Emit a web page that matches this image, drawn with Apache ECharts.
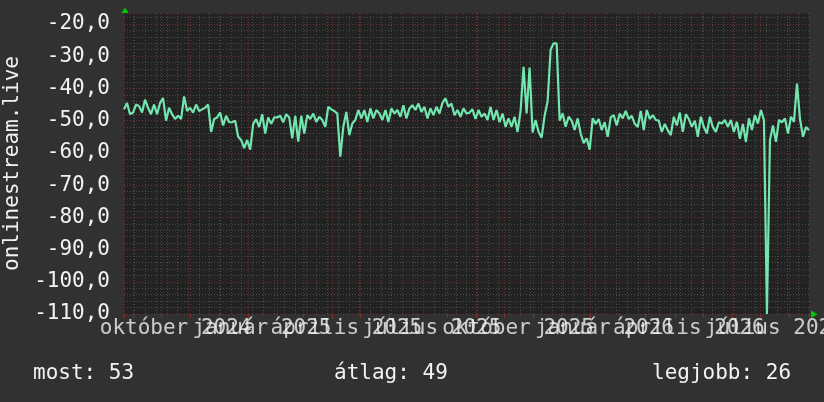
<!DOCTYPE html>
<html>
<head>
<meta charset="utf-8">
<script src="https://cdn.jsdelivr.net/npm/echarts@6/dist/echarts.min.js"></script>
<style>
html, body { margin: 0; padding: 0; background: #313131; }
#main { width: 824px; height: 402px; }
</style>
</head>
<body>
<div id="main"></div>
<script>
// signal level samples, evenly spread from startDate to endDate
var values = [
    -46.5, -44.5, -48, -47.5, -45, -45.5, -47.5, -43.5, -46, -48,
    -45, -48, -44.5, -43, -50, -46, -48, -49.5, -48.5, -49.5,
    -42.5, -47, -46, -47.5, -45, -47, -46.5, -46, -45, -53.5,
    -49.5, -49, -47.5, -51.5, -48.5, -50.5, -50.5, -50, -55, -56,
    -58.5, -56, -59, -51, -49.5, -52, -48, -54, -49, -51,
    -49, -49, -48.5, -50.5, -48, -49, -55.5, -48.5, -56.5, -48.5,
    -54, -48.3, -49.5, -47.8, -50.4, -48.8, -49.8, -51.9, -45.7, -46.5,
    -47, -47.8, -61.2, -51.9, -47.3, -54.5, -50.9, -49.8, -46.7, -49.3,
    -46.7, -50.4, -46.2, -49.3, -46.7, -47.8, -49.8, -46.7, -50.4, -46.2,
    -47.8, -46.7, -48.8, -45.2, -49.3, -46.2, -45.2, -46.7, -44.7, -47.3,
    -45.7, -49.3, -46.2, -48.3, -45.7, -47.8, -44.5, -43.1, -45.7, -44.7,
    -48.3, -46.7, -48.8, -46.2, -47.8, -47.5, -46.5, -49.5, -46.7, -48.8,
    -47.8, -49.8, -45.7, -49.8, -46.7, -50.5, -47.8, -51.9, -49.3, -51.9,
    -48.8, -53.5, -47, -33.3, -47.8, -33.5, -53.7, -49.8, -53.5, -55.3,
    -48.5, -44, -28, -26, -26, -50, -47.8, -51.9, -48.8, -50,
    -52.9, -49.3, -54, -57, -55.5, -59, -49.3, -51, -49.5, -52.9,
    -50.5, -55, -49, -48.3, -51.5, -47.8, -49.3, -47, -49.5, -48.5,
    -51, -52, -47, -52.9, -46.7, -49.5, -48.3, -49.8, -50, -53.5,
    -51, -53, -54.5, -48.8, -51.5, -47.5, -53.5, -48, -49.5, -51.9,
    -50, -55, -48.8, -52, -54, -48.8, -52, -53.5, -50.5, -50.9,
    -49.8, -51.9, -49.8, -53.5, -50.4, -55.6, -51, -56.6, -49.3, -52.9,
    -48.3, -50.9, -46.7, -49.8, -110, -56.1, -51.5, -56.6, -49.8, -50.5,
    -49.3, -54, -48.8, -50.4, -38.5, -49.5, -55, -52, -53
];
var startDate = '2024-08-22';
var endDate = '2026-08-22';

var labelDates = ['2024-10-16', '2025-01-16', '2025-04-16', '2025-07-16',
                  '2025-10-16', '2026-01-16', '2026-04-16', '2026-07-16'];
var labelTexts = ['október 2024', 'január 2025', 'április 2025', 'július 2025',
                  'október 2025', 'január 2026', 'április 2026', 'július 2026'];

var yAxisTitle = 'onlinestream.live';
var statNames = ['most', 'átlag', 'legjobb'];
var statValues = [53, 49, 26];

var FONT = 'DejaVu Sans Mono';
var RED = '#6e2f2f';
var GRAY = '#4b4b4b';
var DAY = 86400000;

function toTime(s) {
    return new Date(s + 'T00:00:00').getTime();
}

window.onload = function () {
    var t0 = toTime(startDate);
    var t1 = toTime(endDate);
    var step = (t1 - t0) / (values.length - 1);
    var points = [];
    for (var i = 0; i < values.length; i++) {
        points.push([t0 + i * step, values[i]]);
    }
    var labelTimes = labelDates.map(toTime);

    // the quarter labels hang under the bottom edge of the plot
    var labelPoints = labelTimes.map(function (t, j) {
        return { value: [t, -110], name: labelTexts[j] };
    });

    var statX = [33, 334, 652];
    var texts = [];
    for (var k = 0; k < statNames.length; k++) {
        texts.push({
            type: 'text',
            left: statX[k],
            top: 363,
            style: {
                text: statNames[k] + ': ' + statValues[k],
                fill: '#f2f2f2',
                font: '21px "' + FONT + '"'
            }
        });
    }
    // axis arrows
    texts.push({
        type: 'polygon',
        shape: { points: [[121.5, 13], [128.5, 13], [125, 7.5]] },
        style: { fill: '#00c800' }
    });
    texts.push({
        type: 'polygon',
        shape: { points: [[811, 310.5], [811, 318], [817.5, 314.2]] },
        style: { fill: '#00c800' }
    });

    var chart = echarts.init(document.getElementById('main'));
    var option = {
        backgroundColor: '#313131',
        animation: false,
        grid: {
            left: 124, right: 15, top: 13, bottom: 88,
            outerBoundsMode: 'none',
            containLabel: false,
            show: true,
            backgroundColor: '#222222',
            borderWidth: 0
        },
        xAxis: [{
            // minor vertical grid
            type: 'value',
            position: 'bottom',
            offset: 0,
            min: 0, max: 64, interval: 1,
            axisLine: { show: false },
            axisTick: { show: false },
            axisLabel: { show: false },
            splitLine: { show: true, lineStyle: { color: GRAY, width: 1, type: [1, 2] } }
        }, {
            // month grid
            type: 'time',
            position: 'bottom',
            offset: 0,
            min: t0, max: t1,
            minInterval: 28 * DAY,
            maxInterval: 31 * DAY,
            axisLine: { show: false },
            axisTick: { show: true, length: 4, lineStyle: { color: '#8a2a2a' } },
            axisLabel: { show: false },
            splitLine: { show: true, lineStyle: { color: RED, width: 1, type: [1, 2] } }
        }, {
            // data axis
            type: 'value',
            position: 'bottom',
            offset: 0,
            min: t0, max: t1,
            axisLine: { show: false },
            axisTick: { show: false },
            splitLine: { show: false },
            axisLabel: { show: false }
        }],
        yAxis: {
            type: 'value',
            min: -110, max: -16.6, interval: 10,
            name: yAxisTitle,
            nameLocation: 'middle',
            nameGap: 99,
            nameTextStyle: { color: '#f2f2f2', fontFamily: FONT, fontSize: 21 },
            axisLine: { show: false },
            axisTick: { show: false },
            axisLabel: {
                showMaxLabel: false,
                margin: 14,
                color: '#f2f2f2',
                fontFamily: FONT,
                fontSize: 21,
                formatter: function (v) { return v.toFixed(1).replace('.', ','); }
            },
            splitLine: { show: true, lineStyle: { color: RED, width: 1, type: [1, 2] } },
            minorTick: { show: false, splitNumber: 5 },
            minorSplitLine: { show: true, lineStyle: { color: GRAY, width: 1, type: [1, 2] } }
        },
        series: [{
            type: 'line',
            xAxisIndex: 2,
            data: points,
            symbol: 'none',
            lineStyle: { color: '#72e6ae', width: 2.2 },
            z: 3
        }, {
            type: 'scatter',
            xAxisIndex: 2,
            data: labelPoints,
            symbolSize: 0,
            clip: false,
            silent: true,
            z: 4,
            labelLayout: { hideOverlap: false },
            label: {
                show: true,
                position: 'bottom',
                distance: 4,
                color: '#f2f2f2',
                fontFamily: FONT,
                fontSize: 21,
                formatter: function (p) { return p.name; }
            }
        }],
        graphic: texts
    };
    chart.setOption(option);
};
</script>
</body>
</html>
